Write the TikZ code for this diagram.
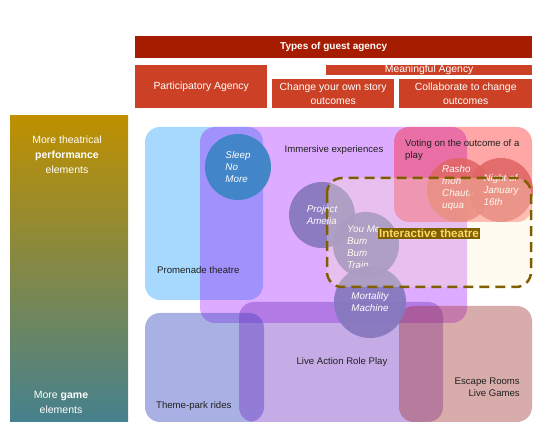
\documentclass[tikz,border=0pt]{standalone}
\usepackage{fontspec}
\setmainfont{Liberation Sans}
\usetikzlibrary{positioning}

\definecolor{agencydark}{HTML}{A61C00}
\definecolor{agencyred}{HTML}{CC4125}
\definecolor{barGold}{HTML}{BF9000}
\definecolor{barTeal}{HTML}{45818E}
\definecolor{promblue}{RGB}{0,145,250}
\definecolor{immpurple}{HTML}{9900FF}
\definecolor{votered}{HTML}{FF0000}
\definecolor{themeblue}{RGB}{64,80,192}
\definecolor{larppurple}{RGB}{112,48,192}
\definecolor{escapered}{RGB}{160,48,48}
\definecolor{sleepblue}{HTML}{3D85C6}
\definecolor{showpurple}{RGB}{135,120,190}
\definecolor{showred}{HTML}{E06666}
\definecolor{cream}{HTML}{FFF2CC}
\definecolor{dashbrown}{HTML}{7F6000}
\definecolor{labelyellow}{HTML}{FFD966}
\definecolor{inkgrey}{HTML}{202020}

\tikzset{
  agency/.style={fill=agencyred, text=white, inner sep=0pt, anchor=north west, align=center,
    font=\fontsize{10.4}{14}\selectfont},
  region/.style={rounded corners=15pt},
  regionlbl/.style={text=inkgrey, inner sep=0pt, font=\fontsize{9.6}{12}\selectfont},
  show/.style={circle, inner sep=0pt, minimum size=66pt, text=white, align=left,
    font=\fontsize{9.8}{12}\selectfont\itshape},
  showlbl/.style={show, rectangle, minimum size=0pt, anchor=north west},
  barlbl/.style={text=white, align=center, font=\fontsize{10.5}{15}\selectfont}
}

\begin{document}
\begin{tikzpicture}[x=1pt, y=-1pt]
\useasboundingbox (0,0) rectangle (555,427);

% types of agency
\node[agency, fill=agencydark, minimum width=397pt, minimum height=22pt, font=\fontsize{10}{12}\selectfont\bfseries] (types) at (135,36) {Types of guest agency};
\node[agency, minimum width=132pt, minimum height=43pt] (particip) at (135,65) {Participatory Agency};
\node[agency, minimum width=206pt, minimum height=10pt] (meaning) at (326,65) {Meaningful Agency};
\node[agency, minimum width=122pt, minimum height=29pt] (ownstory) at (272,79) {Change your own story\\outcomes};
\node[agency, minimum width=133pt, minimum height=29pt] (collab) at (399,79) {Collaborate to change\\outcomes};

% theatre <-> game bar
\shade[top color=barGold, bottom color=barTeal] (10,116) rectangle (128,422);
\node[barlbl] (theatrical) at (67,155) {More theatrical\\\textbf{performance}\\elements};
\node[barlbl] (gamey) at (61,402) {More \textbf{game}\\elements};

% regions
\fill[region, promblue, fill opacity=.35] (145,127) rectangle (263,300);
\fill[region, immpurple, fill opacity=.33] (200,127) rectangle (467,323);
\fill[region, votered, fill opacity=.35] (394,127) rectangle (532,222);
\fill[region, themeblue, fill opacity=.45] (145,313) rectangle (264,422);
\fill[region, larppurple, fill opacity=.4] (239,302) rectangle (443,422);
\fill[region, escapered, fill opacity=.4] (399,306) rectangle (532,422);

% shows
\node[show, fill=sleepblue, fill opacity=.95, text opacity=1] (sleep) at (238,167) {Sleep\\No\\More};
\node[show, fill=showpurple, fill opacity=.92, text opacity=1] (amelia) at (322,215) {Project\\Amelia};
\node[show, fill=showpurple, fill opacity=.92] (youme) at (366,245) {};
\node[showlbl] (youmelbl) at (347,226) {You Me\\Bum\\Bum\\Train};
\node[show, fill=showpurple, fill opacity=.95, text opacity=1, minimum size=72pt] (mortality) at (370,302) {Mortality\\Machine};
\node[show, fill=showred, fill opacity=.9, text opacity=1, minimum size=64pt] (rashomon) at (459,190) {};
\node[showlbl] (rashomonlbl) at (442,165) {Rasho\\mon\\Chauta\\uqua};
\node[show, fill=showred, fill opacity=.88, text opacity=1, minimum size=64pt] (night) at (501,190) {Night of\\January\\16th};

% interactive theatre
\draw[region, fill=cream, fill opacity=.3, draw=dashbrown, line width=2.5pt, dash pattern=on 10pt off 6pt] (327,178) rectangle (531,287);
\node[fill=dashbrown, text=labelyellow, inner sep=1pt, font=\fontsize{11.6}{13}\selectfont\bfseries] (interactive) at (429,233.5) {Interactive theatre};

% region labels
\node[regionlbl, anchor=west] (promenade) at (157,270) {Promenade theatre};
\node[regionlbl] (immersive) at (334,150) {Immersive experiences};
\node[regionlbl, anchor=north west, align=left] (voting) at (405,139) {Voting on the outcome of a\\play};
\node[regionlbl] (larp) at (342,362) {Live Action Role Play};
\node[regionlbl, anchor=east, align=right] (escape) at (520,387) {Escape Rooms\\Live Games};
\node[regionlbl, anchor=west] (themepark) at (156,406) {Theme-park rides};
\end{tikzpicture}
\end{document}
